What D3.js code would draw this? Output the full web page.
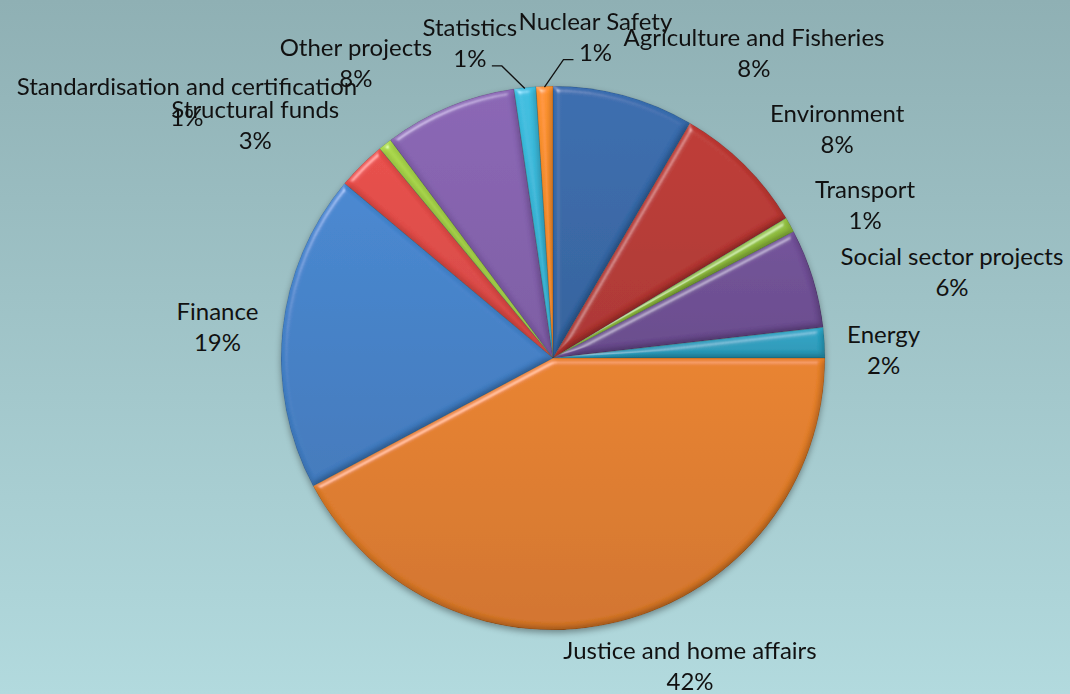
<!DOCTYPE html>
<html>
<head>
<meta charset="utf-8">
<script src="https://cdn.jsdelivr.net/npm/d3@7"></script>
<style>
  html, body { margin: 0; padding: 0; }
  svg { display: block; }
  .lbl { font-family: Lato, "Open Sans", sans-serif; font-size: 24px; fill: #111; }
</style>
</head>
<body>
<svg id="chart"></svg>
<script>
'use strict';

// shares of the budget, clockwise from 12 o'clock
var categories = [
    'Agriculture and Fisheries', 'Environment', 'Transport', 'Social sector projects',
    'Energy', 'Justice and home affairs', 'Finance', 'Structural funds',
    'Standardisation and certification', 'Other projects', 'Statistics', 'Nuclear Safety'
];
var shares = [8.4, 8.0, 0.9, 5.9, 1.8, 42.2, 18.9, 2.9, 0.8, 7.9, 1.3, 1.0];
var sliceColors = [
    '#3568a8', '#b73631', '#8cb83c', '#6e4d94', '#2aa0c0', '#e07c28',
    '#4381c9', '#e04a46', '#a3cf47', '#8461ae', '#3ab7d8', '#f58d2c'
];
// label block offset from the slice's outer mid point, and whether a leader is drawn
var labelOffsets = [
    [130, -43], [93, -36], [75, -21], [139, -7], [59, 6], [71, 43],
    [-65, -4], [-106, -41], [-198, -43], [-93, -45], [-55, -45], [51, -50]
];
var leaders = [false, false, false, false, false, false, false, false, false, false, true, true];

var width = 1070, height = 694;
var cx = 553, cy = 358, radius = 272;
var lineGap = 31;

var svg = d3.select('#chart')
    .attr('width', width)
    .attr('height', height);

var defs = svg.append('defs');

var bg = defs.append('linearGradient')
    .attr('id', 'bg')
    .attr('x1', 0).attr('y1', 0).attr('x2', 0).attr('y2', 1);
bg.append('stop').attr('offset', '0%').attr('stop-color', '#8fb0b4');
bg.append('stop').attr('offset', '100%').attr('stop-color', '#b2dade');

svg.append('rect')
    .attr('width', width)
    .attr('height', height)
    .attr('fill', 'url(#bg)');

// bevel look for each slice
var bevel = defs.append('filter')
    .attr('id', 'bevel')
    .attr('x', '-10%').attr('y', '-10%').attr('width', '120%').attr('height', '120%');
bevel.append('feGaussianBlur')
    .attr('in', 'SourceAlpha').attr('stdDeviation', 3).attr('result', 'blur');
var spec = bevel.append('feSpecularLighting')
    .attr('in', 'blur').attr('surfaceScale', 4).attr('specularConstant', 0.6)
    .attr('specularExponent', 35).attr('lighting-color', '#ffffff').attr('result', 'spec');
spec.append('feDistantLight').attr('azimuth', 235).attr('elevation', 40);
bevel.append('feComposite')
    .attr('in', 'spec').attr('in2', 'SourceAlpha').attr('operator', 'in').attr('result', 'specIn');
var diff = bevel.append('feDiffuseLighting')
    .attr('in', 'blur').attr('surfaceScale', 4).attr('diffuseConstant', 1.15)
    .attr('lighting-color', '#ffffff').attr('result', 'diff');
diff.append('feDistantLight').attr('azimuth', 235).attr('elevation', 60);
bevel.append('feComposite')
    .attr('in', 'SourceGraphic').attr('in2', 'diff').attr('operator', 'arithmetic')
    .attr('k1', 1).attr('k2', 0).attr('k3', 0).attr('k4', 0).attr('result', 'lit');
bevel.append('feComposite')
    .attr('in', 'lit').attr('in2', 'SourceGraphic').attr('operator', 'arithmetic')
    .attr('k1', 0).attr('k2', 0.6).attr('k3', 0.4).attr('k4', 0).attr('result', 'mix');
bevel.append('feComposite')
    .attr('in', 'specIn').attr('in2', 'mix').attr('operator', 'arithmetic')
    .attr('k1', 0).attr('k2', 0.5).attr('k3', 1).attr('k4', 0).attr('result', 'out');
bevel.append('feComposite')
    .attr('in', 'out').attr('in2', 'SourceAlpha').attr('operator', 'in');

var shadow = defs.append('filter')
    .attr('id', 'shadow')
    .attr('x', '-10%').attr('y', '-10%').attr('width', '120%').attr('height', '120%');
shadow.append('feDropShadow')
    .attr('dx', 0).attr('dy', 3).attr('stdDeviation', 3)
    .attr('flood-color', '#000').attr('flood-opacity', 0.35);

sliceColors.forEach(function (c, i) {
    var g = defs.append('linearGradient')
        .attr('id', 'grad' + i)
        .attr('x1', 0).attr('y1', 0).attr('x2', 0).attr('y2', 1);
    g.append('stop').attr('offset', '0%').attr('stop-color', d3.color(c).brighter(0.1));
    g.append('stop').attr('offset', '100%').attr('stop-color', d3.color(c).darker(0.2));
});

var data = categories.map(function (name, i) {
    return { name: name, value: shares[i], index: i };
});
var total = d3.sum(shares);

var pie = d3.pie()
    .value(function (d) { return d.value; })
    .sort(null);
var arcs = pie(data);

var arc = d3.arc()
    .innerRadius(0)
    .outerRadius(radius);

var pieGroup = svg.append('g')
    .attr('transform', 'translate(' + cx + ',' + cy + ')');

pieGroup.append('g')
    .attr('filter', 'url(#shadow)')
    .selectAll('path')
    .data(arcs)
    .enter()
    .append('path')
    .attr('d', arc)
    .attr('fill', function (d) { return 'url(#grad' + d.data.index + ')'; })
    .attr('stroke', 'rgba(0,0,0,0.25)')
    .attr('stroke-width', 0.8)
    .attr('filter', 'url(#bevel)');

function outerMid(d) {
    var a = (d.startAngle + d.endAngle) / 2;
    return [radius * Math.sin(a), -radius * Math.cos(a)];
}

var fmt = d3.format('.0f');

var labels = pieGroup.selectAll('.label')
    .data(arcs)
    .enter()
    .append('g')
    .attr('class', 'label')
    .attr('transform', function (d) {
        var p = outerMid(d);
        var o = labelOffsets[d.data.index];
        return 'translate(' + (p[0] + o[0]) + ',' + (p[1] + o[1]) + ')';
    });

labels.append('text')
    .attr('class', 'lbl')
    .attr('text-anchor', 'middle')
    .attr('dominant-baseline', 'central')
    .attr('y', -lineGap / 2)
    .text(function (d) { return d.data.name; });

labels.append('text')
    .attr('class', 'lbl')
    .attr('text-anchor', 'middle')
    .attr('dominant-baseline', 'central')
    .attr('y', lineGap / 2)
    .text(function (d) { return fmt(d.data.value / total * 100) + '%'; });

// leader lines for the thin slices at the top
pieGroup.selectAll('.leader')
    .data(arcs.filter(function (d) { return leaders[d.data.index]; }))
    .enter()
    .append('polyline')
    .attr('class', 'leader')
    .attr('fill', 'none')
    .attr('stroke', '#111')
    .attr('stroke-width', 1.3)
    .attr('points', function (d) {
        var p = outerMid(d);
        var o = labelOffsets[d.data.index];
        var lx = p[0] + o[0], ly = p[1] + o[1] + lineGap / 2 + 8;
        var side = lx < p[0] ? 1 : -1;
        var start = [lx + side * 22, ly];
        var elbow = [lx + side * 32, ly];
        return [start, elbow, [p[0], p[1] + 1]].map(function (q) { return q.join(','); }).join(' ');
    });
</script>
</body>
</html>
